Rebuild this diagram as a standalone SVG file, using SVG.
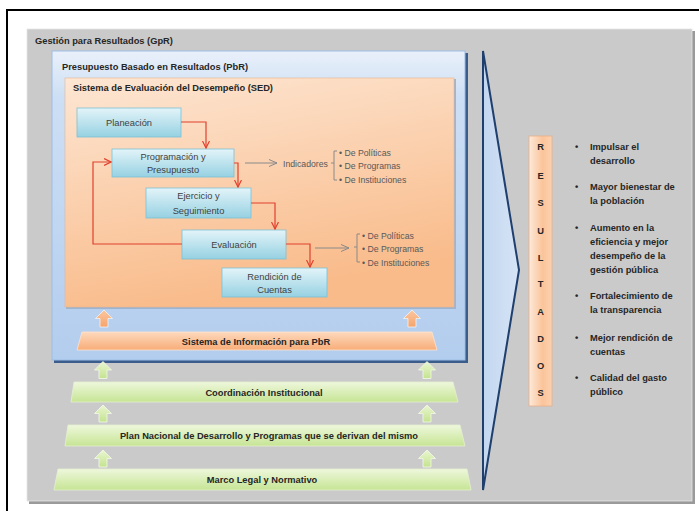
<svg xmlns="http://www.w3.org/2000/svg" width="699" height="511" viewBox="0 0 699 511">
<defs>
<linearGradient id="gBlue" x1="0" y1="0" x2="0" y2="1"><stop offset="0" stop-color="#e9f0fa"/><stop offset="0.15" stop-color="#cddff4"/><stop offset="1" stop-color="#b3cdee"/></linearGradient>
<linearGradient id="gSed" x1="0" y1="0" x2="0.3" y2="1"><stop offset="0" stop-color="#fde6d3"/><stop offset="1" stop-color="#f9bb8a"/></linearGradient>
<linearGradient id="gNode" x1="0" y1="0" x2="0" y2="1"><stop offset="0" stop-color="#e3f4f9"/><stop offset="1" stop-color="#96d1e2"/></linearGradient>
<linearGradient id="gOrBar" x1="0" y1="0" x2="0" y2="1"><stop offset="0" stop-color="#fdd9bd"/><stop offset="1" stop-color="#f8ad78"/></linearGradient>
<linearGradient id="gGrBar" x1="0" y1="0" x2="0" y2="1"><stop offset="0" stop-color="#eef7dc"/><stop offset="1" stop-color="#c6e594"/></linearGradient>
<linearGradient id="gOrArr" x1="0" y1="0" x2="0" y2="1"><stop offset="0" stop-color="#fbc7a0"/><stop offset="1" stop-color="#f6a46b"/></linearGradient>
<linearGradient id="gGrArr" x1="0" y1="0" x2="0" y2="1"><stop offset="0" stop-color="#eaf6d2"/><stop offset="1" stop-color="#c4e38f"/></linearGradient>
<linearGradient id="gTri" x1="0" y1="0" x2="1" y2="0"><stop offset="0" stop-color="#c3d7f0"/><stop offset="1" stop-color="#d6e4f6"/></linearGradient>
<linearGradient id="gRes" x1="0" y1="0" x2="1" y2="0"><stop offset="0" stop-color="#fde9d9"/><stop offset="0.6" stop-color="#fbc49a"/><stop offset="1" stop-color="#fbd2b0"/></linearGradient>
<marker id="mRed" markerWidth="8" markerHeight="8" refX="7" refY="4" orient="auto" markerUnits="userSpaceOnUse"><path d="M0,0.5 L7,4 L0,7.5" fill="none" stroke="#e0402e" stroke-width="1.2"/></marker>
<marker id="mGray" markerWidth="9" markerHeight="8" refX="8" refY="4" orient="auto" markerUnits="userSpaceOnUse"><path d="M0,0.5 L8,4 L0,7.5" fill="none" stroke="#8a8a8a" stroke-width="1"/></marker>
<path id="upArr" d="M0,-8.5 L8.5,0 L4,0 L4,8.5 L-4,8.5 L-4,0 L-8.5,0 Z"/>
</defs>
<style>
.t{font-family:"Liberation Sans",Arial,sans-serif;}
.b{font-family:"Liberation Sans",Arial,sans-serif;font-weight:bold;font-size:9.3px;fill:#262626;}
.n{font-family:"Liberation Sans",Arial,sans-serif;font-size:9.3px;fill:#3f3f3f;text-anchor:middle;}
.s{font-family:"Liberation Sans",Arial,sans-serif;font-size:8.7px;fill:#595959;}
.node{fill:url(#gNode);stroke:#7cc0d4;stroke-width:0.8;}
.red{fill:none;stroke:#e0402e;stroke-width:1.2;}
.gray{fill:none;stroke:#8a8a8a;stroke-width:1;}
.oarr{fill:url(#gOrArr);stroke:#f2f2f2;stroke-width:0.8;}
.garr{fill:url(#gGrArr);stroke:#f4f9ea;stroke-width:0.8;}
.gbar{fill:url(#gGrBar);stroke:#e4f0cf;stroke-width:0.8;}
.rl{font-family:"Liberation Sans",Arial,sans-serif;font-weight:bold;font-size:9.3px;fill:#262626;text-anchor:middle;}
</style>
<rect x="0" y="0" width="699" height="511" fill="#ffffff"/>
<rect x="7" y="10" width="720" height="520" fill="#ffffff" stroke="#000000" stroke-width="2"/>

<g id="gpr">
<rect x="29" y="31" width="666" height="473" fill="#9a9a9a"/>
<rect x="27" y="29" width="665" height="472" fill="#cacaca" stroke="#e6e6e6" stroke-width="0.8"/>
<text class="b" x="35" y="44">Gestión para Resultados (GpR)</text>
</g>

<g id="pbr">
<rect x="54" y="53" width="414" height="310" fill="#3b5d8c"/>
<rect x="52" y="51" width="413" height="309" fill="url(#gBlue)" stroke="#9dbde6" stroke-width="1"/>
<text class="b" x="62" y="70">Presupuesto Basado en Resultados (PbR)</text>
</g>

<g id="sed">
<rect x="66" y="79" width="390" height="230" fill="#9fb4cf"/>
<rect x="65" y="78" width="389" height="229" fill="url(#gSed)" stroke="#e9b48c" stroke-width="0.6"/>
<text class="b" x="73" y="91">Sistema de Evaluación del Desempeño (SED)</text>
</g>

<g id="planeacion">
<rect class="node" x="77" y="108" width="104" height="29"/>
<text class="n" x="129" y="125.5">Planeación</text>
</g>
<g id="programacion">
<rect class="node" x="112" y="149" width="122" height="28"/>
<text class="n" x="173" y="159.5">Programación y</text>
<text class="n" x="173" y="173">Presupuesto</text>
</g>
<g id="ejercicio">
<rect class="node" x="146" y="188" width="105" height="30"/>
<text class="n" x="198.5" y="198.5">Ejercicio y</text>
<text class="n" x="198.5" y="213.5">Seguimiento</text>
</g>
<g id="evaluacion">
<rect class="node" x="182" y="230" width="104" height="29"/>
<text class="n" x="234" y="248">Evaluación</text>
</g>
<g id="rendicion">
<rect class="node" x="222" y="268" width="105" height="29"/>
<text class="n" x="274.5" y="279.5">Rendición de</text>
<text class="n" x="274.5" y="293">Cuentas</text>
</g>

<g id="indicadores">
<text class="s" x="283" y="167">Indicadores</text>
<path class="gray" d="M331,163 H334 M337,151 H334 V180 H337"/>
<text class="s" x="339" y="156">• De Políticas</text>
<text class="s" x="339" y="169">• De Programas</text>
<text class="s" x="339" y="182.5">• De Instituciones</text>
</g>
<g id="indicadores2">
<path class="gray" d="M354,247 H357 M360,234 H357 V262 H360"/>
<text class="s" x="362" y="239">• De Políticas</text>
<text class="s" x="362" y="252">• De Programas</text>
<text class="s" x="362" y="265.5">• De Instituciones</text>
</g>

<g id="connectors">
<path class="red" d="M181,122 H206 V148" marker-end="url(#mRed)"/>
<path class="red" d="M234,163 H238 V187" marker-end="url(#mRed)"/>
<path class="red" d="M251,203 H275 V229" marker-end="url(#mRed)"/>
<path class="red" d="M286,244 H310 V267" marker-end="url(#mRed)"/>
<path class="red" d="M182,244 H93 V162 H111" marker-end="url(#mRed)"/>
<path class="gray" d="M245,163 H277" marker-end="url(#mGray)"/>
<path class="gray" d="M315,248 H349" marker-end="url(#mGray)"/>
<use href="#upArr" class="oarr" transform="translate(104,318.5)"/>
<use href="#upArr" class="oarr" transform="translate(412,318.5)"/>
<use href="#upArr" class="garr" transform="translate(103,370)"/>
<use href="#upArr" class="garr" transform="translate(427,370)"/>
<use href="#upArr" class="garr" transform="translate(103,413.5)"/>
<use href="#upArr" class="garr" transform="translate(427,413.5)"/>
<use href="#upArr" class="garr" transform="translate(103,458.5)"/>
<use href="#upArr" class="garr" transform="translate(427,458.5)"/>
</g>

<g id="sistema-informacion">
<polygon points="82,332 432,332 437,350 77,350" fill="url(#gOrBar)" stroke="#fde3cf" stroke-width="0.8"/>
<text class="b" x="256" y="344.5" text-anchor="middle">Sistema de Información para PbR</text>
</g>
<g id="coordinacion">
<polygon class="gbar" points="74,382 453,382 458,402 71,402"/>
<text class="b" x="264" y="395.5" text-anchor="middle">Coordinación Institucional</text>
</g>
<g id="plan-nacional">
<polygon class="gbar" points="68,425 460,425 465,446 65,446"/>
<text class="b" x="269" y="438.5" text-anchor="middle">Plan Nacional de Desarrollo y Programas que se derivan del mismo</text>
</g>
<g id="marco-legal">
<polygon class="gbar" points="58,469 467,469 471,490 54,490"/>
<text class="b" x="262" y="482.5" text-anchor="middle">Marco Legal y Normativo</text>
</g>

<g id="chevron">
<polygon points="483,51 519,270 483,490" fill="url(#gTri)" stroke="#1f3f6e" stroke-width="2" stroke-linejoin="miter"/>
</g>

<g id="resultados">
<rect x="529" y="136" width="23" height="270" fill="url(#gRes)" stroke="#e8b088" stroke-width="0.8"/>
<text class="rl" x="540.5" y="149.5">R</text>
<text class="rl" x="540.5" y="178.5">E</text>
<text class="rl" x="540.5" y="205.5">S</text>
<text class="rl" x="540.5" y="233.5">U</text>
<text class="rl" x="540.5" y="260.5">L</text>
<text class="rl" x="540.5" y="286.5">T</text>
<text class="rl" x="540.5" y="314.5">A</text>
<text class="rl" x="540.5" y="341.5">D</text>
<text class="rl" x="540.5" y="368.5">O</text>
<text class="rl" x="540.5" y="395.5">S</text>
</g>

<g id="resultados-lista">
<text class="b" x="575" y="150">•</text>
<text class="b" x="590" y="150">Impulsar el</text>
<text class="b" x="590" y="164">desarrollo</text>
<text class="b" x="575" y="190">•</text>
<text class="b" x="590" y="190">Mayor bienestar de</text>
<text class="b" x="590" y="204">la población</text>
<text class="b" x="575" y="231">•</text>
<text class="b" x="590" y="231">Aumento en la</text>
<text class="b" x="590" y="245">eficiencia y mejor</text>
<text class="b" x="590" y="259">desempeño de la</text>
<text class="b" x="590" y="272.5">gestión pública</text>
<text class="b" x="575" y="299">•</text>
<text class="b" x="590" y="299">Fortalecimiento de</text>
<text class="b" x="590" y="313">la transparencia</text>
<text class="b" x="575" y="341">•</text>
<text class="b" x="590" y="341">Mejor rendición de</text>
<text class="b" x="590" y="355">cuentas</text>
<text class="b" x="575" y="381">•</text>
<text class="b" x="590" y="381">Calidad del gasto</text>
<text class="b" x="590" y="395">público</text>
</g>
</svg>
